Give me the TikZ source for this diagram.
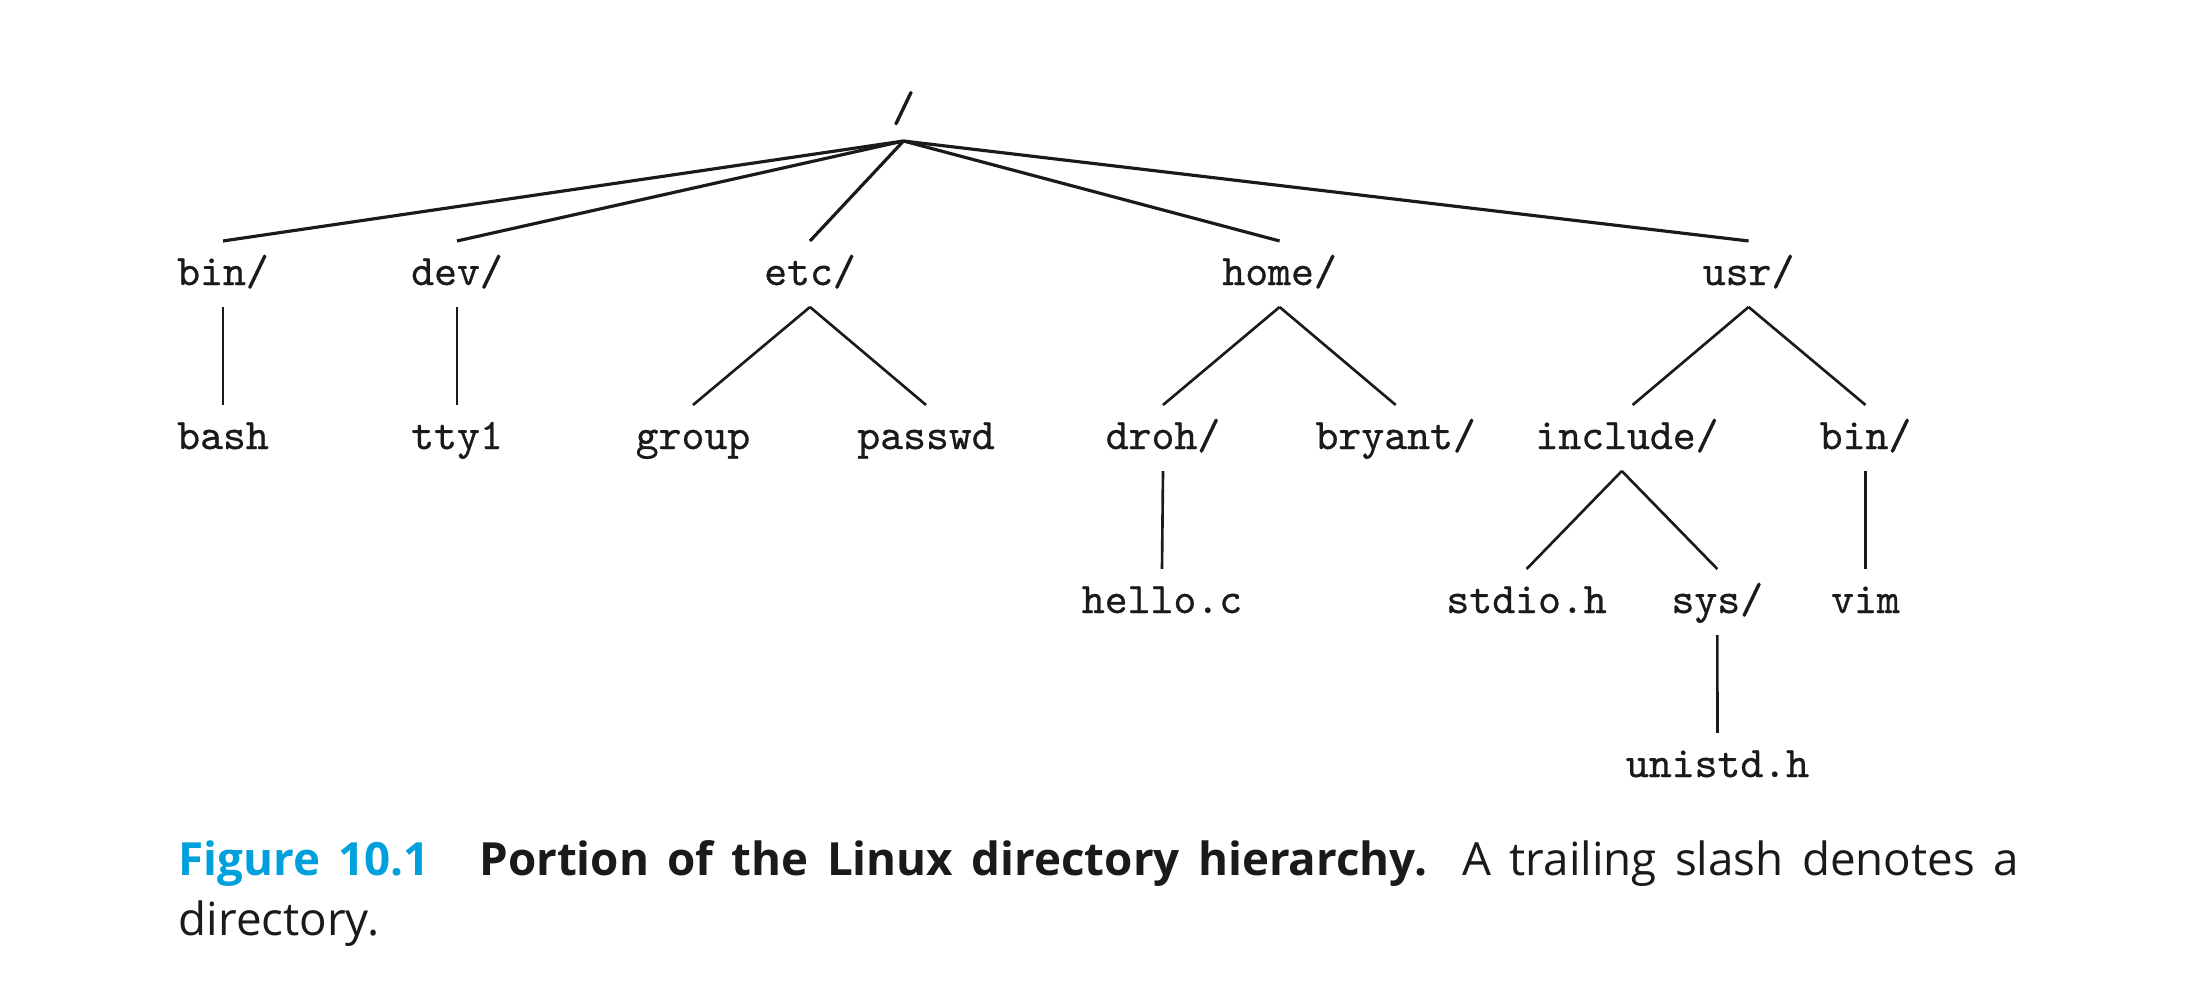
\documentclass[tikz,border=0pt]{standalone}
\usepackage{fontspec}
\setmainfont{Open Sans}
\newfontfamily\treefont{lmmono10-regular.otf}[FakeBold=0.6]
\definecolor{figblue}{RGB}{0,160,220}
\definecolor{ink}{RGB}{26,26,26}
\begin{document}
\begin{tikzpicture}[x=0.01cm,y=-0.01cm,
  fname/.style={font=\fontsize{12.4}{14}\treefont, text=ink, inner sep=0pt, outer sep=0pt,
                text height=0.44cm, text depth=0.22cm, anchor=base},
  link/.style={line width=0.75pt, draw=ink},
  rootlink/.style={line width=0.9pt, draw=ink},
  captext/.style={anchor=base west, inner sep=0pt, text=ink, font=\fontsize{13}{17}\selectfont}]
\useasboundingbox (0,0) rectangle (2196,1006);

% root
\node[fname, text depth=0.195cm] (root) at (903.5,121.5) {/};

% level 1
\node[fname] (bin1) at (223,285) {bin/};
\node[fname] (dev)  at (457,285) {dev/};
\node[fname] (etc)  at (810,285) {etc/};
\node[fname] (home) at (1279.6,285) {home/};
\node[fname] (usr)  at (1748.6,285) {usr/};

% level 2
\node[fname] (bash)   at (223,449) {bash};
\node[fname] (tty)    at (457,449) {tty1};
\node[fname] (group)  at (693,449) {group};
\node[fname] (passwd) at (926,449) {passwd};
\node[fname] (droh)   at (1163,449) {droh/};
\node[fname] (bryant) at (1395.7,449) {bryant/};
\node[fname] (incl)   at (1627,449) {include/};
\node[fname] (bin2)   at (1865.5,449) {bin/};

% level 3
\node[fname] (hello) at (1162,613) {hello.c};
\node[fname] (stdio) at (1526.6,613) {stdio.h};
\node[fname] (sys)   at (1717.3,613) {sys/};
\node[fname] (vim)   at (1865.5,613) {vim};

% level 4
\node[fname] (unistd) at (1717.5,777) {unistd.h};

% connectors
\draw[rootlink] (root.south) -- (bin1.north);
\draw[rootlink] (root.south) -- (dev.north);
\draw[rootlink] (root.south) -- (etc.north);
\draw[rootlink] (root.south) -- (home.north);
\draw[rootlink] (root.south) -- (usr.north);

\draw[link] (bin1.south) -- (bash.north);
\draw[link] (dev.south) -- (tty.north);
\draw[link] (etc.south) -- (group.north);
\draw[link] (etc.south) -- (passwd.north);
\draw[link] (home.south) -- (droh.north);
\draw[link] (home.south) -- (bryant.north);
\draw[link] (usr.south) -- ([xshift=0.056cm]incl.north);
\draw[link] (usr.south) -- (bin2.north);

\draw[link] (droh.south) -- (hello.north);
\draw[link] ([xshift=-0.052cm]incl.south) -- (stdio.north);
\draw[link] ([xshift=-0.052cm]incl.south) -- (sys.north);
\draw[link] (bin2.south) -- (vim.north);

\draw[link] (sys.south) -- (unistd.north);

% caption
\node[captext] (cap1) at (178,875) {\makebox[18.39cm][s]{\textcolor{figblue}{\textbf{Figure 10.1}}\hspace{14pt}\textbf{Portion of the Linux directory hierarchy.} A trailing slash denotes a}};
\node[captext] (cap2) at (178,935) {directory.};
\end{tikzpicture}
\end{document}
